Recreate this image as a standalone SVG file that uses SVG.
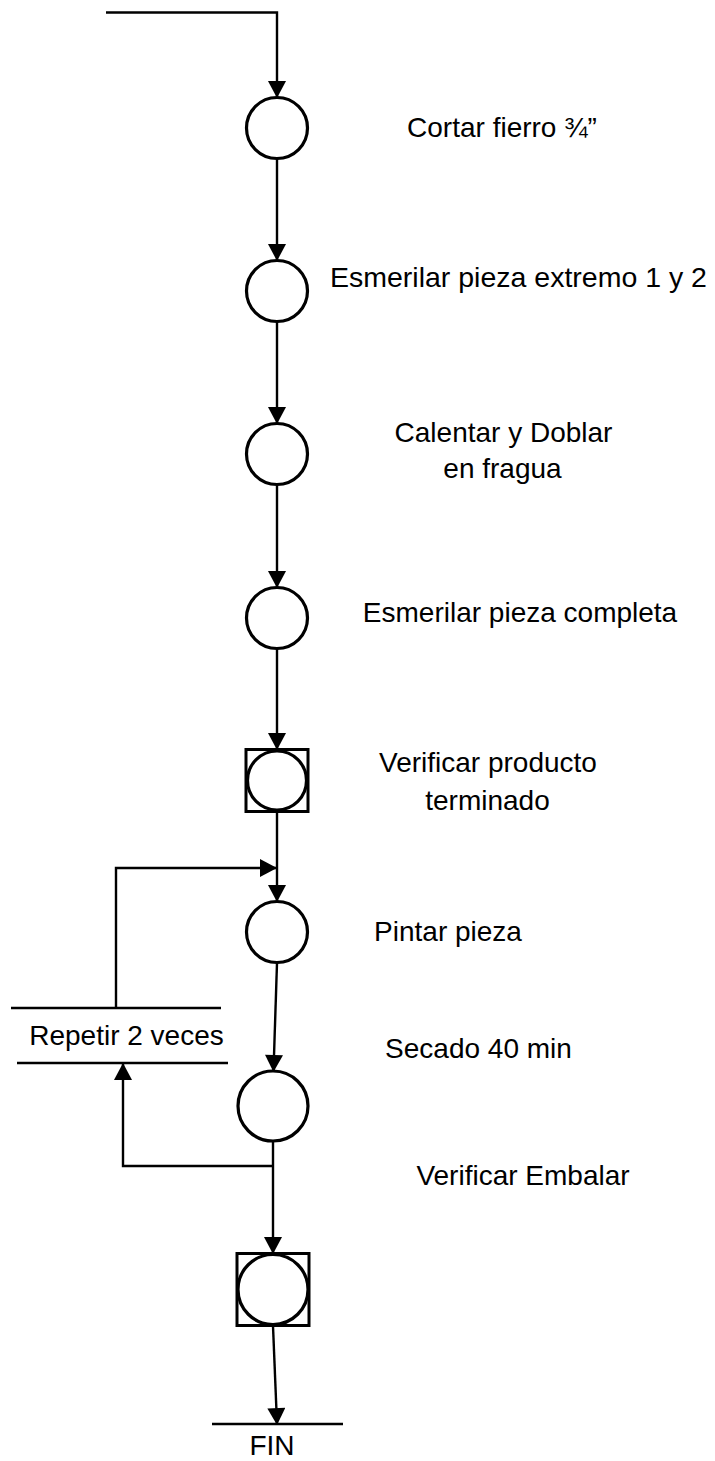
<svg xmlns="http://www.w3.org/2000/svg" width="715" height="1461" viewBox="0 0 715 1461">
  <style>
    .node { fill: #fff; stroke: #000; stroke-width: 3.2; }
    .box { fill: #fff; stroke: #000; stroke-width: 3; }
    .conn { fill: none; stroke: #000; stroke-width: 2.4; }
    .bar { fill: none; stroke: #000; stroke-width: 2.4; }
    .lbl { font-family: "Liberation Sans", Arial, sans-serif; font-size: 28px; fill: #000; text-anchor: middle; }
  </style>
  <defs>
    <marker id="arr" markerUnits="userSpaceOnUse" markerWidth="18" markerHeight="18" viewBox="0 0 17 18" refX="16" refY="9" orient="auto">
      <path d="M0,0 L17,9 L0,18 z" fill="#000"/>
    </marker>
  </defs>
  <rect width="715" height="1461" fill="#fff"/>

  <g id="connectors">
    <path class="conn" d="M106,12.5 H277 V97" marker-end="url(#arr)"/>
    <path class="conn" d="M277,159 V260" marker-end="url(#arr)"/>
    <path class="conn" d="M277,322 V423" marker-end="url(#arr)"/>
    <path class="conn" d="M277,485 V587" marker-end="url(#arr)"/>
    <path class="conn" d="M277,649 V749" marker-end="url(#arr)"/>
    <path class="conn" d="M277,812 V901" marker-end="url(#arr)"/>
    <path class="conn" d="M116,1008 V868 H276" marker-end="url(#arr)"/>
    <path class="conn" d="M277,963 L273.5,1071" marker-end="url(#arr)"/>
    <path class="conn" d="M273,1141 V1253" marker-end="url(#arr)"/>
    <path class="conn" d="M273,1166 H123 V1064" marker-end="url(#arr)"/>
    <path class="conn" d="M273,1326 L277,1424" marker-end="url(#arr)"/>
  </g>

  <g id="n1">
    <circle class="node" cx="277" cy="128" r="30.5"/>
    <text class="lbl" x="502" y="137">Cortar fierro ¾”</text>
  </g>
  <g id="n2">
    <circle class="node" cx="277" cy="291" r="30.5"/>
    <text class="lbl" x="518.5" y="287" style="font-size:28.5px">Esmerilar pieza extremo 1 y 2</text>
  </g>
  <g id="n3">
    <circle class="node" cx="277" cy="454" r="30.5"/>
    <text class="lbl" x="503.5" y="442">Calentar y Doblar</text>
    <text class="lbl" x="502.5" y="478">en fragua</text>
  </g>
  <g id="n4">
    <circle class="node" cx="277" cy="618" r="30.5"/>
    <text class="lbl" x="520" y="622">Esmerilar pieza completa</text>
  </g>
  <g id="n5">
    <rect class="box" x="246" y="749.5" width="62" height="62"/>
    <circle class="node" cx="277" cy="780.5" r="29.5"/>
    <text class="lbl" x="488" y="772">Verificar producto</text>
    <text class="lbl" x="487.5" y="810">terminado</text>
  </g>
  <g id="n6">
    <circle class="node" cx="277" cy="932" r="30.5"/>
    <text class="lbl" x="448" y="941">Pintar pieza</text>
  </g>
  <g id="n_repetir">
    <line class="bar" x1="11" y1="1008" x2="221" y2="1008"/>
    <line class="bar" x1="17" y1="1063" x2="228" y2="1063"/>
    <text class="lbl" x="126.5" y="1045">Repetir 2 veces</text>
  </g>
  <g id="n7">
    <circle class="node" cx="273" cy="1106" r="35"/>
    <text class="lbl" x="478.5" y="1058">Secado 40 min</text>
  </g>
  <g id="n8">
    <rect class="box" x="237" y="1253.5" width="72" height="72"/>
    <circle class="node" cx="273" cy="1289.5" r="35"/>
    <text class="lbl" x="523" y="1185">Verificar Embalar</text>
  </g>
  <g id="n_fin">
    <line class="bar" x1="212" y1="1424" x2="343" y2="1424"/>
    <text class="lbl" x="272" y="1455">FIN</text>
  </g>
</svg>
